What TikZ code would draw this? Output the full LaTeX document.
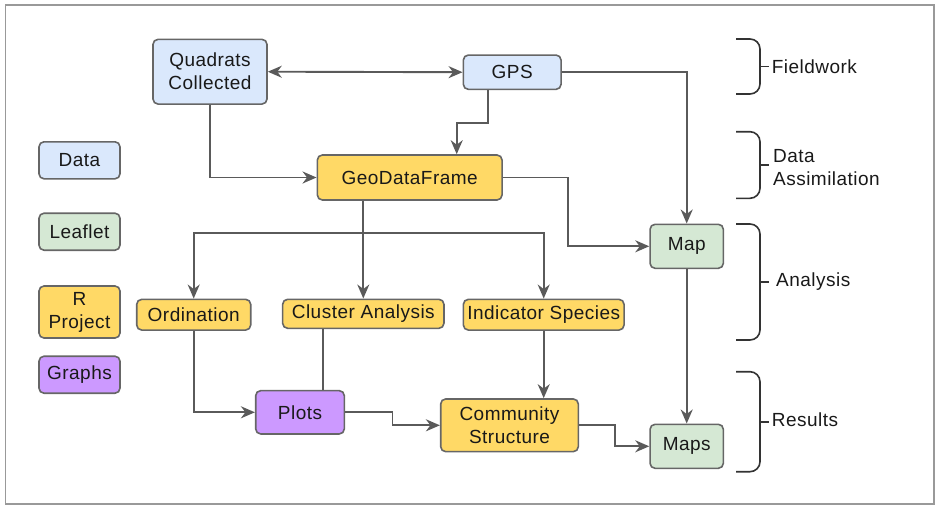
\documentclass[tikz,border=0pt]{standalone}
\usepackage{fontspec}
\setmainfont{Liberation Sans}[LetterSpace=2.5]
\usetikzlibrary{arrows.meta,calc}
\definecolor{cblue}{HTML}{DAE8FC}
\definecolor{cgreen}{HTML}{D5E8D4}
\definecolor{cyellow}{HTML}{FFD966}
\definecolor{cpurple}{HTML}{CC99FF}
\definecolor{cborder}{HTML}{666666}
\definecolor{cline}{HTML}{5A5A5A}
\definecolor{cframe}{HTML}{999999}
\begin{document}
\begin{tikzpicture}[x=1pt,y=-1pt,
  box/.style={draw=cborder,line width=1.6pt,rounded corners=5pt,inner sep=0pt,
    align=center,font=\fontsize{19}{23}\selectfont,text=black!90},
  blue/.style={box,fill=cblue},
  green/.style={box,fill=cgreen},
  yellow/.style={box,fill=cyellow},
  purple/.style={box,fill=cpurple},
  tip/.tip={Stealth[length=14pt,width=12pt,inset=4.5pt]},
  arr/.style={draw=cline,line width=1.9pt,-tip},
  lin/.style={draw=cline,line width=1.9pt},
  brc/.style={draw=black!80,line width=1.6pt,rounded corners=10pt},
  lbl/.style={anchor=west,inner sep=0pt,align=left,font=\fontsize{19}{23}\selectfont,text=black!90}]
\useasboundingbox (0,0) rectangle (939,509);
\draw[cframe,line width=1.8pt] (5.5,5) rectangle (934,504);

% legend
\node[blue,minimum width=81pt,minimum height=37pt] (ldata) at (79.5,160.3) {Data};
\node[green,minimum width=81pt,minimum height=37pt] (lleaf) at (79.5,231.7) {Leaflet};
\node[yellow,minimum width=81pt,minimum height=52pt] (lr) at (79.5,312) {R\\Project};
\node[purple,minimum width=81pt,minimum height=37pt] (lgr) at (79.5,374.7) {Graphs};

% main nodes
\node[blue,minimum width=114pt,minimum height=64.7pt] (Q) at (210,71.7) {Quadrats\\Collected};
\node[blue,minimum width=97.7pt,minimum height=34.3pt] (G) at (512.2,72.2) {GPS};
\node[yellow,minimum width=184.7pt,minimum height=45pt] (GDF) at (409.7,177.5) {GeoDataFrame};
\node[green,minimum width=73.3pt,minimum height=44pt] (M) at (686.7,246.3) {Map};
\node[green,minimum width=73.3pt,minimum height=44pt] (Ms) at (686.7,446.3) {Maps};
\node[yellow,minimum width=114pt,minimum height=30.7pt] (O) at (193.7,314.7) {Ordination};
\node[yellow,minimum width=161.3pt,minimum height=29pt] (CA) at (363.3,313.8) {Cluster Analysis};
\node[yellow,minimum width=160.7pt,minimum height=30.7pt] (IS) at (543.7,314.7) {Indicator Species};
\node[purple,minimum width=88.6pt,minimum height=43.3pt] (P) at (300,412.3) {Plots};
\node[yellow,minimum width=137.6pt,minimum height=52.7pt] (CS) at (509.5,425.3) {Community\\Structure};

% connectors
\draw[arr,tip-tip] (Q.east) -- (G.west);
\draw[arr] ([xshift=-24pt]G.south) -- ++(0,32.4) -| ([xshift=47pt]GDF.north);
\draw[arr] (Q.south) |- (GDF.west);
\draw[arr] (G.east) -| (M.north);
\draw[arr] (GDF.east) -- ++(65.3,0) |- (M.west);
\draw[arr] (M.south) -- (Ms.north);
\draw[arr] ([xshift=-46.4pt]GDF.south) -- (CA.north);
\coordinate (br) at (363.3,232.7);
\draw[arr] (br) -| (O.north);
\draw[arr] (br) -| (IS.north);
\draw[lin] ([xshift=-40pt]CA.south) -- ([xshift=23.3pt]P.north);
\draw[arr] (O.south) |- (P.west);
\draw[arr] (P.east) -- ++(47.4,0) |- (CS.west);
\draw[arr] (IS.south) -- (IS.south |- CS.north);
\draw[arr] (CS.east) -- ++(35.7,0) |- (Ms.west);

% braces
\draw[brc] (736,39) -- (760,39) -- (760,94) -- (736,94);
\draw[black!80,line width=1.6pt] (760,66.5) -- (769,66.5);
\node[lbl] (fw) at (771.7,67) {Fieldwork};
\draw[brc] (736,131.7) -- (760,131.7) -- (760,198.3) -- (736,198.3);
\draw[black!80,line width=1.6pt] (760,165) -- (769,165);
\node[lbl] (da) at (773,168) {Data\\Assimilation};
\draw[brc] (736,224) -- (760,224) -- (760,340) -- (736,340);
\draw[black!80,line width=1.6pt] (760,282) -- (769,282);
\node[lbl] (an) at (776,282) {Analysis};
\draw[brc] (736,371.7) -- (760,371.7) -- (760,471.7) -- (736,471.7);
\draw[black!80,line width=1.6pt] (760,421.7) -- (769,421.7);
\node[lbl] (rs) at (771.7,420) {Results};
\end{tikzpicture}
\end{document}
